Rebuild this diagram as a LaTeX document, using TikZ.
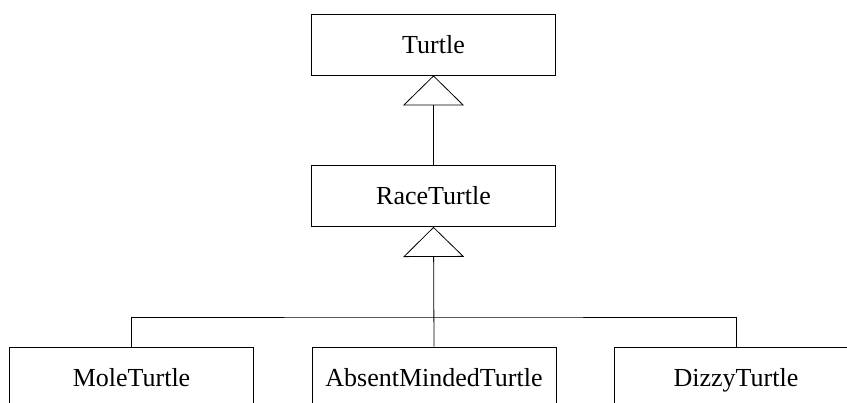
\documentclass[tikz,border=0pt]{standalone}
\usepackage{fontspec}
\setmainfont{Liberation Serif}
\usetikzlibrary{arrows.meta}
\tikzset{
  cls/.style={draw, line width=0.6pt, rectangle, minimum width=244*0.75pt, minimum height=61*0.75pt, inner sep=0pt, text height=12.9pt, text depth=0pt, font=\fontsize{19.5}{22}\selectfont, fill=white},
  inh/.style={line width=0.6pt, -{Triangle[open, length=30*0.75pt, width=61*0.75pt, line width=0.6pt]}},
  ln/.style={line width=0.6pt}
}
\begin{document}
\begin{tikzpicture}[x=0.75pt, y=-0.75pt]
\useasboundingbox (0,0) rectangle (847,403);
\clip (0,0) rectangle (847,403);
\node[cls] (turtle) at (433.5,44.5) {Turtle};
\node[cls] (race) at (433.5,196) {RaceTurtle};
\node[cls] (mole) at (131.5,377.5) {MoleTurtle};
\node[cls] (absent) at (434,377.5) {AbsentMindedTurtle};
\node[cls] (dizzy) at (736,377.5) {DizzyTurtle};
\coordinate (bus) at (433.5,317);
\draw[inh] (race.north) -- (turtle.south);
\draw[inh] (absent.north) -- (race.south);
\draw[ln] (mole.north) |- (bus) -| (dizzy.north);
\end{tikzpicture}
\end{document}
